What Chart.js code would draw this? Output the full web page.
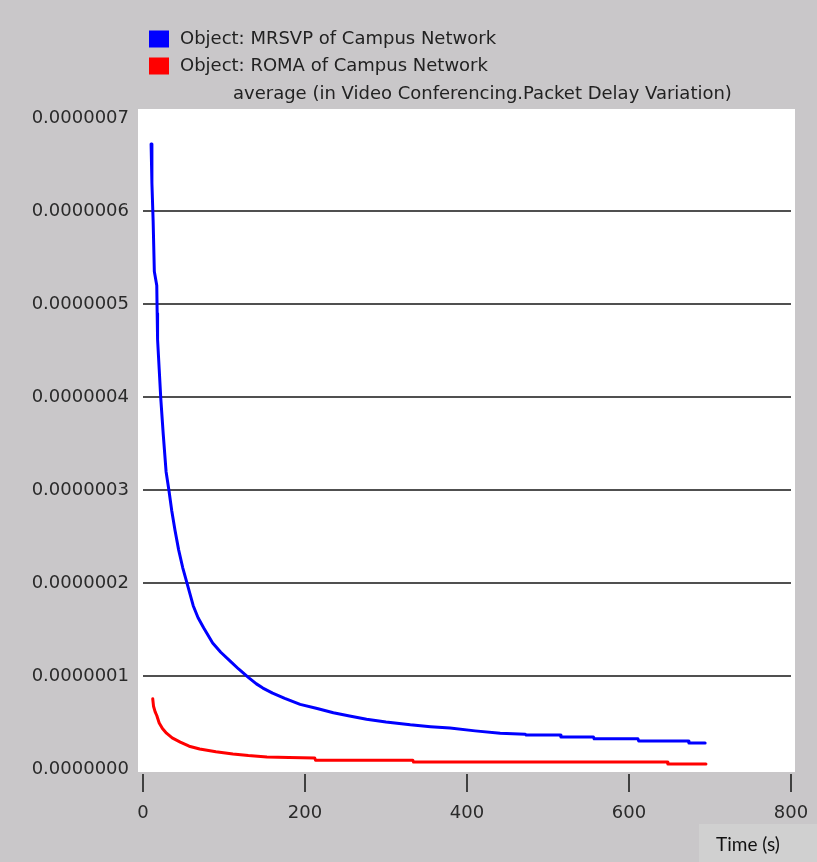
<!DOCTYPE html>
<html>
<head>
<meta charset="utf-8">
<script src="https://cdn.jsdelivr.net/npm/chart.js@4/dist/chart.umd.min.js"></script>
<style>
  html, body { margin: 0; padding: 0; background: #c9c7c9; }
  canvas { display: block; }
</style>
</head>
<body>
<canvas id="chart" width="817" height="862"></canvas>
<script>
// Packet delay variation (seconds) over simulation time (seconds)
const seriesNames = ['Object: MRSVP of Campus Network', 'Object: ROMA of Campus Network'];
const statLabel = 'average (in Video Conferencing.Packet Delay Variation)';
const xTitle = 'Time (s)';

const timeMRSVP = [10, 11, 12.5, 14, 17, 17.5, 18, 20, 22, 25, 28.5, 32, 35.5, 39.5, 44, 49, 55, 62, 68, 75, 86, 96, 107, 118, 130, 140, 148, 160, 175, 194, 215, 235, 255, 276, 300, 330, 355, 379, 410, 441, 472, 473, 515, 516, 556, 557, 611, 612, 673, 674, 694];
const delayMRSVP = [6.72e-7, 6.3e-7, 5.9e-7, 5.35e-7, 5.2e-7, 4.9e-7, 4.62e-7, 4.3e-7, 3.98e-7, 3.6e-7, 3.2e-7, 3.0e-7, 2.78e-7, 2.57e-7, 2.36e-7, 2.17e-7, 1.98e-7, 1.76e-7, 1.63e-7, 1.52e-7, 1.36e-7, 1.26e-7, 1.17e-7, 1.08e-7, 0.99e-7, 0.92e-7, 0.875e-7, 0.82e-7, 0.765e-7, 0.70e-7, 0.655e-7, 0.61e-7, 0.575e-7, 0.54e-7, 0.51e-7, 0.48e-7, 0.46e-7, 0.445e-7, 0.415e-7, 0.39e-7, 0.38e-7, 0.37e-7, 0.37e-7, 0.35e-7, 0.35e-7, 0.33e-7, 0.33e-7, 0.305e-7, 0.305e-7, 0.285e-7, 0.285e-7];

const timeROMA = [12, 13, 15, 17, 20, 24, 29, 36, 46, 57, 70, 90, 111, 130, 153, 180, 212, 213, 333, 334, 647, 648, 695];
const delayROMA = [0.76e-7, 0.68e-7, 0.62e-7, 0.58e-7, 0.5e-7, 0.44e-7, 0.39e-7, 0.34e-7, 0.295e-7, 0.25e-7, 0.22e-7, 0.19e-7, 0.167e-7, 0.15e-7, 0.134e-7, 0.128e-7, 0.123e-7, 0.10e-7, 0.10e-7, 0.08e-7, 0.08e-7, 0.06e-7, 0.06e-7];

const xTicks = [0, 200, 400, 600, 800];
const yTicks = [0, 1e-7, 2e-7, 3e-7, 4e-7, 5e-7, 6e-7, 7e-7];

const seriesColors = ['#0000ff', '#ff0000'];

const toPoints = (xs, ys) => xs.map((x, i) => ({ x: x, y: ys[i] }));

const FONT = '"DejaVu Sans", Verdana, sans-serif';

// White plotting panel, slightly larger than the chart area
const panelPlugin = {
  id: 'panel',
  beforeDraw(chart) {
    const { ctx, chartArea: a } = chart;
    ctx.save();
    ctx.fillStyle = '#ffffff';
    ctx.fillRect(a.left - 5, a.top - 9, a.right - a.left + 9, a.bottom - a.top + 11.5);
    ctx.restore();
  }
};

// X tick marks, drawn in the gray margin under the panel
const xTickMarks = {
  id: 'xTickMarks',
  afterDraw(chart) {
    const { ctx, chartArea: a, scales } = chart;
    ctx.save();
    ctx.strokeStyle = '#404040';
    ctx.lineWidth = 2;
    scales.x.ticks.forEach(t => {
      const px = Math.round(scales.x.getPixelForValue(t.value));
      ctx.beginPath();
      ctx.moveTo(px, a.bottom + 4.5);
      ctx.lineTo(px, a.bottom + 22.5);
      ctx.stroke();
    });
    ctx.restore();
  }
};

// Legend block and statistic caption, plus the axis title box
const headerPlugin = {
  id: 'header',
  afterDraw(chart) {
    const { ctx } = chart;
    ctx.save();
    ctx.font = '18px ' + FONT;
    ctx.textBaseline = 'middle';
    ctx.textAlign = 'left';
    chart.data.datasets.forEach((ds, i) => {
      const y = 39 + i * 27;
      ctx.fillStyle = ds.borderColor;
      ctx.fillRect(149, y - 8.5, 20, 17);
      ctx.fillStyle = '#222222';
      ctx.fillText(ds.label, 180, y);
    });
    ctx.fillText(statLabel, 233, 94);

    // axis title box
    ctx.fillStyle = '#d0d0d0';
    ctx.fillRect(699, 824, 118, 38);
    ctx.fillStyle = '#111111';
    ctx.font = '19px Lato, "Open Sans", sans-serif';
    ctx.textAlign = 'center';
    ctx.fillText(xTitle, 748, 845);
    ctx.restore();
  }
};

const lineStyle = {
  borderWidth: 3,
  borderJoinStyle: 'round',
  borderCapStyle: 'round',
  pointRadius: 0,
  tension: 0,
  fill: false
};

new Chart(document.getElementById('chart'), {
  type: 'line',
  data: {
    datasets: [
      Object.assign({
        label: seriesNames[0],
        data: toPoints(timeMRSVP, delayMRSVP),
        borderColor: seriesColors[0],
        backgroundColor: seriesColors[0]
      }, lineStyle),
      Object.assign({
        label: seriesNames[1],
        data: toPoints(timeROMA, delayROMA),
        borderColor: seriesColors[1],
        backgroundColor: seriesColors[1]
      }, lineStyle)
    ]
  },
  options: {
    responsive: false,
    animation: false,
    devicePixelRatio: 1,
    layout: { padding: { top: 118, right: 26, left: 0, bottom: 0 } },
    plugins: {
      legend: { display: false },
      tooltip: { enabled: false }
    },
    scales: {
      x: {
        type: 'linear',
        min: 0,
        max: 800,
        afterBuildTicks(scale) { scale.ticks = xTicks.map(v => ({ value: v })); },
        afterFit(scale) {
          scale.height = 92.5;
          scale.paddingLeft = 0;
          scale.paddingRight = 0;
        },
        grid: { display: false, drawTicks: false },
        border: { display: false },
        ticks: {
          padding: 33,
          color: '#2a2a2a',
          font: { family: FONT, size: 18 },
          maxRotation: 0,
          callback: v => String(v)
        }
      },
      y: {
        type: 'linear',
        min: 0,
        max: 7e-7,
        afterBuildTicks(scale) { scale.ticks = yTicks.map(v => ({ value: v })); },
        afterFit(scale) {
          scale.width = 143;
          scale.paddingTop = 0;
          scale.paddingBottom = 0;
        },
        grid: {
          drawTicks: false,
          lineWidth: 2,
          color: ctx => (ctx.index === 0 || ctx.index === yTicks.length - 1) ? 'rgba(0,0,0,0)' : '#505050'
        },
        border: { display: false },
        ticks: {
          padding: 14,
          color: '#2a2a2a',
          font: { family: FONT, size: 18 },
          callback: v => Number(v).toFixed(7)
        }
      }
    }
  },
  plugins: [panelPlugin, xTickMarks, headerPlugin]
});
</script>
</body>
</html>
